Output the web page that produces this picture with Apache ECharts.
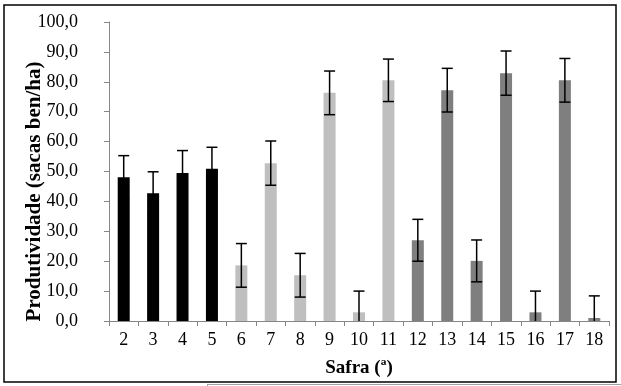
<!DOCTYPE html>
<html>
<head>
<meta charset="utf-8">
<style>html,body{margin:0;padding:0;background:#fff;}#c{width:621px;height:386px;}</style>
<script src="https://cdn.jsdelivr.net/npm/echarts@6/dist/echarts.min.js"></script>
</head>
<body>
<div id="c"></div>
<script>
var categories = ['2','3','4','5','6','7','8','9','10','11','12','13','14','15','16','17','18'];
var values = [48.1, 42.7, 49.5, 50.9, 18.6, 52.8, 15.3, 76.3, 2.9, 80.5, 27.0, 77.2, 20.1, 82.9, 2.9, 80.5, 1.0];
var errors = [7.2, 7.2, 7.5, 7.2, 7.3, 7.4, 7.3, 7.3, 7.1, 7.1, 7.0, 7.3, 7.0, 7.4, 7.1, 7.3, 7.4];
var groups = ['a','a','a','a','b','b','b','b','b','b','c','c','c','c','c','c','c'];
var yTicks = ['0,0','10,0','20,0','30,0','40,0','50,0','60,0','70,0','80,0','90,0','100,0'];

var groupColor = {a:'#000000', b:'#bfbfbf', c:'#7f7f7f'};
var font = 'Liberation Serif';

var chart = echarts.init(document.getElementById('c'), null, {renderer:'canvas'});
chart.setOption({
  animation:false,
  backgroundColor:'#ffffff',
  textStyle:{fontFamily:font},
  grid:{left:109, right:12, top:22, bottom:65},
  xAxis:{
    type:'category', data:categories, boundaryGap:true,
    axisLine:{lineStyle:{color:'#868686', width:1}},
    axisTick:{show:true, length:5, lineStyle:{color:'#868686'}},
    axisLabel:{color:'#000', fontFamily:font, fontSize:18, margin:10, interval:0},
    name:'Safra (ª)', nameLocation:'middle', nameGap:38, nameMoveOverlap:false,
    nameTextStyle:{color:'#000', fontFamily:font, fontSize:19, fontWeight:'bold'}
  },
  yAxis:{
    type:'value', min:0, max:100, interval:10,
    axisLine:{show:true, lineStyle:{color:'#868686', width:1}},
    axisTick:{show:true, length:5, lineStyle:{color:'#868686'}},
    splitLine:{show:false},
    axisLabel:{color:'#000', fontFamily:font, fontSize:18, margin:31,
      formatter:function(v){ return yTicks[Math.round(v/10)]; }},
    name:'Produtividade (sacas ben/ha)', nameLocation:'middle', nameGap:64, nameMoveOverlap:false,
    nameTextStyle:{color:'#000', fontFamily:font, fontSize:21, fontWeight:'bold', padding:[0,40,0,0]}
  },
  series:[
    {
      type:'bar', barWidth:12,
      data: values.map(function(v,i){ return {value:v, itemStyle:{color:groupColor[groups[i]]}}; }),
      z:2
    },
    {
      type:'custom', z:3,
      data: values.map(function(v,i){ return [i, v, errors[i]]; }),
      renderItem:function(params, api){
        var i = api.value(0), v = api.value(1), e = api.value(2);
        var top = api.coord([i, v+e]);
        var lowV = v - e;
        var low = api.coord([i, Math.max(lowV, 0)]);
        var hw = 5.5;
        var style = {stroke:'#000', lineWidth:1.5};
        var kids = [
          {type:'line', shape:{x1:top[0], y1:top[1], x2:low[0], y2:low[1]}, style:style},
          {type:'line', shape:{x1:top[0]-hw, y1:top[1], x2:top[0]+hw, y2:top[1]}, style:style}
        ];
        if (lowV >= 0) {
          kids.push({type:'line', shape:{x1:low[0]-hw, y1:low[1], x2:low[0]+hw, y2:low[1]}, style:style});
        }
        return {type:'group', children:kids};
      }
    }
  ],
  graphic:[
    {type:'rect', shape:{x:4, y:5, width:612, height:377}, style:{fill:null, stroke:'#000', lineWidth:1.5}, z:100},
    {type:'line', shape:{x1:207, y1:384.5, x2:621, y2:384.5}, style:{stroke:'#a0a0a0', lineWidth:1}, z:100},
    {type:'line', shape:{x1:207.5, y1:384, x2:207.5, y2:386}, style:{stroke:'#a0a0a0', lineWidth:1}, z:100}
  ]
});
</script>
</body>
</html>
